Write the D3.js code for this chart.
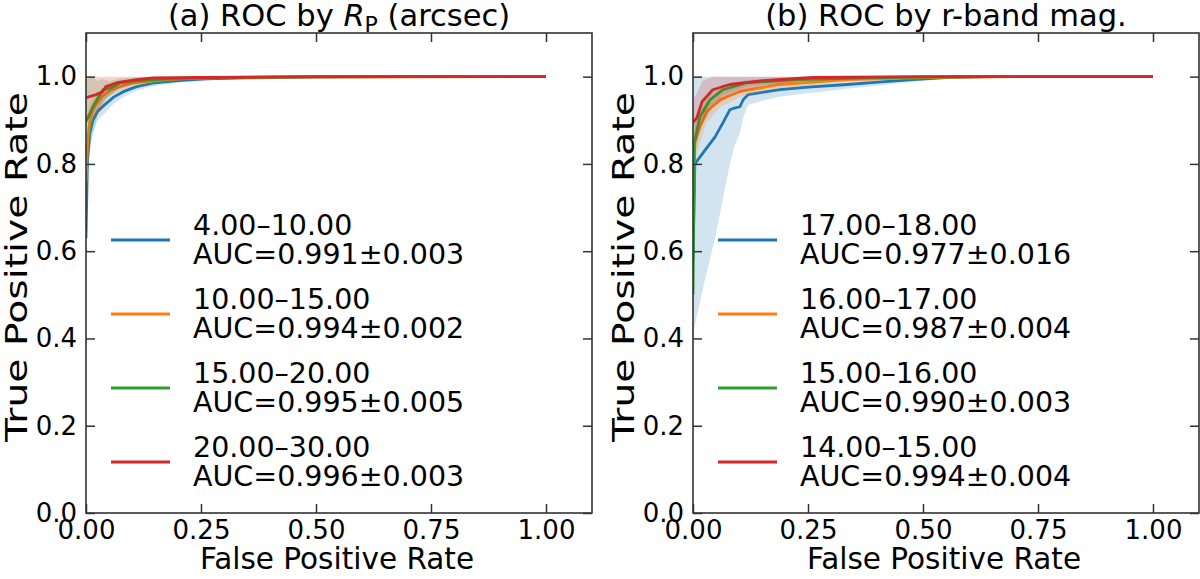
<!DOCTYPE html>
<html>
<head>
<meta charset="utf-8">
<script src="https://cdn.jsdelivr.net/npm/d3@7"></script>
<style>
  body { margin: 0; background: #fff; }
  text { font-family: "DejaVu Sans", sans-serif; fill: #000; }
</style>
</head>
<body>
<svg id="chart" width="1200" height="579"></svg>
<script>
var xTicks = [0, 0.25, 0.5, 0.75, 1.0];
var yTicks = [0, 0.2, 0.4, 0.6, 0.8, 1.0];

var rpBins = ["4.00\u201310.00", "10.00\u201315.00", "15.00\u201320.00", "20.00\u201330.00"];
var rpAuc = ["0.991\u00b10.003", "0.994\u00b10.002", "0.995\u00b10.005", "0.996\u00b10.003"];
var magBins = ["17.00\u201318.00", "16.00\u201317.00", "15.00\u201316.00", "14.00\u201315.00"];
var magAuc = ["0.977\u00b10.016", "0.987\u00b10.004", "0.990\u00b10.003", "0.994\u00b10.004"];

// rows: [fpr, mean tpr, lower band, upper band]
var rpCurves = [
  [[0,0.63,0.60,0.67],[0.003,0.80,0.76,0.84],[0.008,0.87,0.84,0.90],[0.015,0.90,0.87,0.93],
   [0.025,0.92,0.90,0.945],[0.04,0.935,0.915,0.955],[0.06,0.953,0.938,0.968],[0.08,0.965,0.952,0.977],
   [0.11,0.977,0.968,0.986],[0.15,0.986,0.979,0.992],[0.2,0.991,0.986,0.996],[0.26,0.995,0.991,0.998],
   [0.35,0.997,0.995,0.999],[0.5,0.999,0.998,1],[0.7,1,0.999,1],[1,1,1,1]],
  [[0,0.757,0.70,0.82],[0.004,0.86,0.80,0.92],[0.009,0.905,0.87,0.94],[0.015,0.925,0.90,0.95],
   [0.024,0.94,0.92,0.96],[0.035,0.955,0.94,0.97],[0.05,0.967,0.955,0.979],[0.07,0.976,0.966,0.986],
   [0.1,0.985,0.977,0.992],[0.15,0.991,0.985,0.996],[0.2,0.995,0.991,0.998],[0.3,0.998,0.996,1],
   [0.5,0.999,0.998,1],[1,1,1,1]],
  [[0,0.897,0.80,0.99],[0.008,0.915,0.83,1],[0.015,0.931,0.87,1],[0.025,0.95,0.91,0.99],
   [0.037,0.970,0.945,0.995],[0.05,0.973,0.955,0.99],[0.059,0.977,0.962,0.992],[0.074,0.986,0.975,0.996],
   [0.1,0.99,0.982,0.998],[0.15,0.993,0.987,0.999],[0.2,0.996,0.992,1],[0.3,0.998,0.996,1],
   [0.5,1,0.999,1],[1,1,1,1]],
  [[0,0.952,0.90,1],[0.02,0.958,0.91,1],[0.037,0.966,0.93,1],[0.043,0.977,0.95,1],
   [0.067,0.986,0.97,1],[0.11,0.993,0.985,1],[0.146,0.997,0.992,1],[0.25,0.998,0.995,1],
   [0.5,1,0.999,1],[1,1,1,1]]
];

var magCurves = [
  [[0,0.58,0.40,1],[0.004,0.80,0.43,1],[0.025,0.83,0.53,1],[0.048,0.862,0.63,1],[0.065,0.894,0.72,1],
   [0.08,0.924,0.80,1],[0.09,0.928,0.84,1],[0.102,0.931,0.87,1],[0.109,0.947,0.905,1],[0.12,0.959,0.935,1],
   [0.15,0.964,0.945,1],[0.189,0.970,0.954,1],[0.25,0.976,0.962,1],[0.335,0.982,0.972,1],[0.41,0.988,0.98,1],
   [0.478,0.993,0.988,1],[0.55,0.998,0.995,1],[0.65,1,0.999,1],[1,1,1,1]],
  [[0,0.70,0.62,0.78],[0.004,0.85,0.80,0.90],[0.015,0.885,0.85,0.92],[0.03,0.92,0.895,0.945],
   [0.059,0.947,0.93,0.964],[0.102,0.966,0.953,0.979],[0.189,0.982,0.974,0.99],[0.335,0.993,0.989,0.997],
   [0.5,0.998,0.996,1],[0.7,1,0.999,1],[1,1,1,1]],
  [[0,0.50,0.45,0.55],[0.003,0.85,0.81,0.89],[0.015,0.908,0.88,0.935],[0.037,0.947,0.93,0.964],
   [0.065,0.970,0.958,0.982],[0.117,0.986,0.978,0.993],[0.226,0.993,0.988,0.998],[0.4,0.998,0.996,1],
   [0.6,1,1,1],[1,1,1,1]],
  [[0,0.895,0.84,0.95],[0.008,0.905,0.85,0.96],[0.02,0.943,0.89,0.99],[0.043,0.970,0.93,1],
   [0.08,0.982,0.955,1],[0.152,0.991,0.978,1],[0.26,0.998,0.992,1],[0.5,1,0.999,1],[1,1,1,1]]
];

var colors = ["#1f77b4", "#ff7f0e", "#2ca02c", "#d62728"];

var svg = d3.select("#chart");

function rocPanel(left, right, curves, bins, aucs, titleFn, id) {
  var top = 33, bottom = 513;
  var x = d3.scaleLinear().domain([0, 1.1]).range([left, right]);
  var y = d3.scaleLinear().domain([0, 1.1]).range([bottom, top]);

  var g = svg.append("g");

  g.append("clipPath").attr("id", "clip" + id)
    .append("rect")
    .attr("x", left).attr("y", top)
    .attr("width", right - left).attr("height", bottom - top);

  var plot = g.append("g").attr("clip-path", "url(#clip" + id + ")");

  var area = d3.area()
    .x(function (d) { return x(d[0]); })
    .y0(function (d) { return y(d[2]); })
    .y1(function (d) { return y(d[3]); });
  var line = d3.line()
    .x(function (d) { return x(d[0]); })
    .y(function (d) { return y(d[1]); });

  curves.forEach(function (c, i) {
    plot.append("path").datum(c)
      .attr("d", area)
      .attr("fill", colors[i])
      .attr("fill-opacity", 0.2);
    plot.append("path").datum(c)
      .attr("d", line)
      .attr("fill", "none")
      .attr("stroke", colors[i])
      .attr("stroke-width", 2.8)
      .attr("stroke-linejoin", "round");
  });

  // axes, ticks pointing inward on all sides
  var fmtX = d3.format(".2f"), fmtY = d3.format(".1f");
  var ax = [
    g.append("g").attr("transform", "translate(0," + bottom + ")")
      .call(d3.axisBottom(x).tickValues(xTicks).tickFormat(fmtX).tickSizeInner(-9).tickSizeOuter(0).tickPadding(8)),
    g.append("g").attr("transform", "translate(0," + top + ")")
      .call(d3.axisTop(x).tickValues(xTicks).tickFormat("").tickSizeInner(-9).tickSizeOuter(0)),
    g.append("g").attr("transform", "translate(" + left + ",0)")
      .call(d3.axisLeft(y).tickValues(yTicks).tickFormat(fmtY).tickSizeInner(-9).tickSizeOuter(0).tickPadding(9)),
    g.append("g").attr("transform", "translate(" + right + ",0)")
      .call(d3.axisRight(y).tickValues(yTicks).tickFormat("").tickSizeInner(-9).tickSizeOuter(0))
  ];
  ax.forEach(function (a) {
    a.select(".domain").remove();
    a.selectAll("line").attr("stroke", "#333").attr("stroke-width", 1.5);
    a.selectAll("text").style("font-size", "26px").attr("fill", "#000");
  });

  g.append("rect")
    .attr("x", left).attr("y", top)
    .attr("width", right - left).attr("height", bottom - top)
    .attr("fill", "none").attr("stroke", "#333").attr("stroke-width", 1.6);

  // title
  var t = g.append("text")
    .attr("x", (left + right) / 2)
    .attr("y", 26)
    .attr("text-anchor", "middle")
    .style("font-size", "30.5px");
  titleFn(t);

  g.append("text")
    .attr("x", (left + right) / 2 - 2)
    .attr("y", 569)
    .attr("text-anchor", "middle")
    .style("font-size", "29.5px")
    .text("False Positive Rate");

  g.append("text")
    .attr("transform", "translate(" + (left - 59) + ",267) rotate(-90)")
    .attr("text-anchor", "middle")
    .attr("textLength", 350)
    .attr("lengthAdjust", "spacingAndGlyphs")
    .style("font-size", "30px")
    .text("True Positive Rate");

  // legend
  var leg = g.append("g").selectAll("g")
    .data(bins)
    .enter().append("g")
    .attr("transform", function (d, i) { return "translate(" + left + "," + (240 + i * 74) + ")"; });

  leg.append("line")
    .attr("x1", 25).attr("x2", 84)
    .attr("stroke", function (d, i) { return colors[i]; })
    .attr("stroke-width", 2.8);

  var lt = leg.append("text").style("font-size", "28.5px");
  lt.append("tspan").attr("x", 107).attr("y", -5).text(function (d) { return d; });
  lt.append("tspan").attr("x", 107).attr("y", 24).text(function (d, i) { return "AUC=" + aucs[i]; });
}

rocPanel(86, 592, rpCurves, rpBins, rpAuc, function (t) {
  t.append("tspan").text("(a) ROC by ");
  t.append("tspan").style("font-style", "italic").text("R");
  t.append("tspan").attr("dy", 6).style("font-size", "22px").text("P");
  t.append("tspan").attr("dy", -6).text(" (arcsec)");
}, "a");

rocPanel(693, 1199, magCurves, magBins, magAuc, function (t) {
  t.text("(b) ROC by r-band mag.");
}, "b");
</script>
</body>
</html>
